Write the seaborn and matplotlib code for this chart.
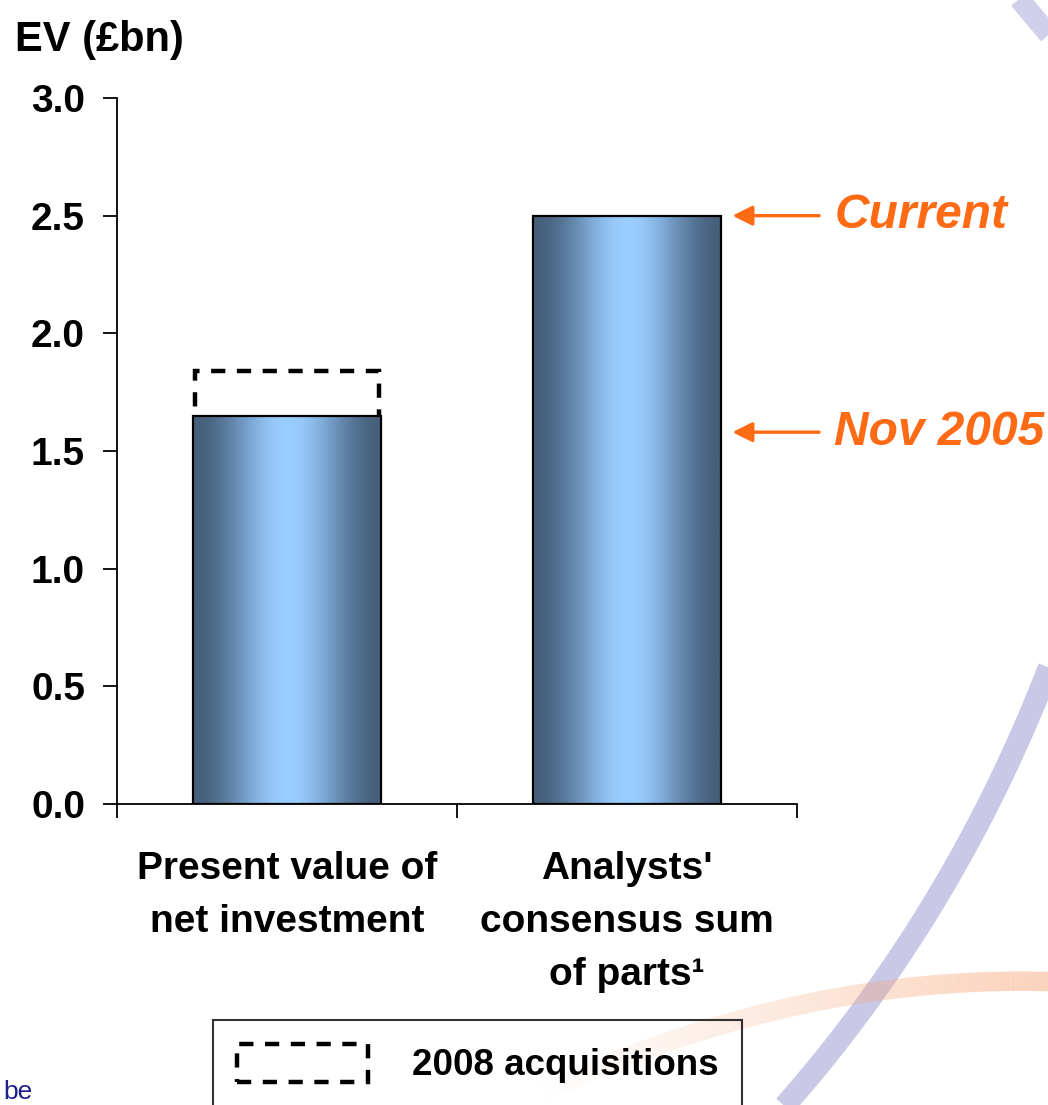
import numpy as np
import matplotlib
matplotlib.use("Agg")
import matplotlib.pyplot as plt
import matplotlib.patches as mpatches
from matplotlib.colors import LinearSegmentedColormap
from matplotlib.collections import LineCollection
import seaborn as sns

# ---- data ----
categories = ["Present value of\nnet investment", "Analysts'\nconsensus sum\nof parts\u00b9"]
ev_values = [1.65, 2.50]
acquisitions_2008 = [0.21, 0.0]
marker_labels = ["Current", "Nov 2005"]
marker_values = [2.50, 1.58]
y_ticks = [0.0, 0.5, 1.0, 1.5, 2.0, 2.5, 3.0]

ORANGE = "#ff6a14"
BAR_DARK = "#46607b"
BAR_LIGHT = "#9acdff"

sns.set_theme(style="white")
plt.rcParams["font.family"] = ["Liberation Sans", "DejaVu Sans"]
plt.rcParams["font.weight"] = "bold"
for key in ("text.color", "axes.labelcolor", "xtick.color", "ytick.color", "axes.edgecolor"):
    plt.rcParams[key] = "black"

W, H = 1048, 1105
fig = plt.figure(figsize=(W / 100, H / 100), dpi=100)
fig.patch.set_facecolor("white")

# ---- decorative background swooshes (pixel coordinates) ----
bg = fig.add_axes([0, 0, 1, 1], zorder=-1)
bg.set_xlim(0, W)
bg.set_ylim(H, 0)
bg.axis("off")


def bezier(p0, c, p2, n=200):
    t = np.linspace(0, 1, n)[:, None]
    p0, c, p2 = map(np.asarray, (p0, c, p2))
    return (1 - t) ** 2 * p0 + 2 * (1 - t) * t * c + t ** 2 * p2


lav = bezier((1080, 580), (980, 890), (772, 1120))
bg.plot(lav[:, 0], lav[:, 1], color="#c9c9e7", lw=16, solid_capstyle="butt")
lav_top = bezier((1012, -10), (1032, 15), (1058, 45))
bg.plot(lav_top[:, 0], lav_top[:, 1], color="#d0d0ea", lw=15, solid_capstyle="butt")

orng = bezier((1060, 982), (800, 972), (540, 1094))
segs = np.stack([orng[:-1], orng[1:]], axis=1)
alphas = np.linspace(0.5, 0.0, len(segs))
cols = [(0.97, 0.64, 0.45, a) for a in alphas]
bg.add_collection(LineCollection(segs, colors=cols, linewidths=14, capstyle="butt"))

# ---- main chart ----
ax = fig.add_axes([117 / W, 1 - 804 / H, 680 / W, 706 / H])
ax.patch.set_alpha(0)

sns.barplot(x=list(range(len(categories))), y=ev_values, ax=ax, width=0.553,
            color=BAR_LIGHT, edgecolor="black", linewidth=1.6)

# horizontal shading inside each bar
cmap = LinearSegmentedColormap.from_list("barshade", [BAR_DARK, "#6d95bd", BAR_LIGHT])
u = np.linspace(0, 1, 400)
shade = np.sin(np.pi * u) ** 2
for patch in list(ax.patches):
    x0, y0 = patch.get_x(), patch.get_y()
    w, h = patch.get_width(), patch.get_height()
    ax.imshow(shade[None, :], extent=[x0, x0 + w, y0, y0 + h], cmap=cmap,
              aspect="auto", zorder=1.5, interpolation="bilinear")
    patch.set_facecolor("none")
    patch.set_zorder(2)

# 2008 acquisitions outline stacked on the first bar (its base hides under the bar)
dash = (0, (3.2, 2.6))
ax.bar(0, acquisitions_2008[0], bottom=ev_values[0] - 0.02, width=0.541,
       fill=False, edgecolor="black", linewidth=3.2, linestyle=dash, zorder=1.4)

ax.set_xlim(-0.5, 1.5)
ax.set_ylim(0, 3.0)
ax.set_yticks(y_ticks)
ax.set_yticklabels([f"{v:.1f}" for v in y_ticks], fontsize=28, fontweight="bold")
ax.set_xticks(range(len(categories)))
ax.set_xticklabels(categories, fontsize=28, fontweight="bold", linespacing=1.6)
ax.set_xticks([-0.5, 0.5, 1.5], minor=True)
ax.tick_params(axis="x", which="major", length=0, pad=34)
ax.tick_params(axis="x", which="minor", length=10, width=1.3, direction="out", color="black", bottom=True)
ax.tick_params(axis="y", which="major", length=10, width=1.3, direction="out", color="black", left=True, pad=13)
sns.despine(ax=ax)
for s in ("left", "bottom"):
    ax.spines[s].set_color("black")
    ax.spines[s].set_linewidth(1.3)
ax.grid(False)

# markers for current and Nov 2005 values
for label, val in zip(marker_labels, marker_values):
    ax.annotate("", xy=(1.31, val), xytext=(1.565, val), annotation_clip=False,
                arrowprops=dict(arrowstyle="-|>,head_length=0.6,head_width=0.3",
                                color=ORANGE, lw=2.4, mutation_scale=20,
                                shrinkA=0, shrinkB=0))
    ax.text(1.61, val, label, color=ORANGE, fontsize=34.5, fontweight="bold",
            fontstyle="italic", va="center", ha="left", clip_on=False)

fig.text(15 / W, 1 - 40 / H, "EV (\u00a3bn)", fontsize=30, fontweight="bold",
         va="center", ha="left")

handle = mpatches.Patch(facecolor="none", edgecolor="black", linewidth=3.2, linestyle=dash)
leg = fig.legend(handles=[handle], labels=["2008 acquisitions"], loc="upper left",
                 bbox_to_anchor=(213 / W, 1 - 1020 / H), frameon=True, fancybox=False,
                 edgecolor="black", facecolor="none",
                 prop=dict(weight="bold", size=26.5), handlelength=3.55, handleheight=1.2,
                 handletextpad=1.2, borderpad=0.65, borderaxespad=0)
leg.get_frame().set_linewidth(1.5)

fig.text(3 / W, 1 - 1092 / H, "be", fontsize=19, color="#1f1f8c",
         ha="left", va="center", fontweight="normal")

fig.savefig("out.png", dpi=100)
